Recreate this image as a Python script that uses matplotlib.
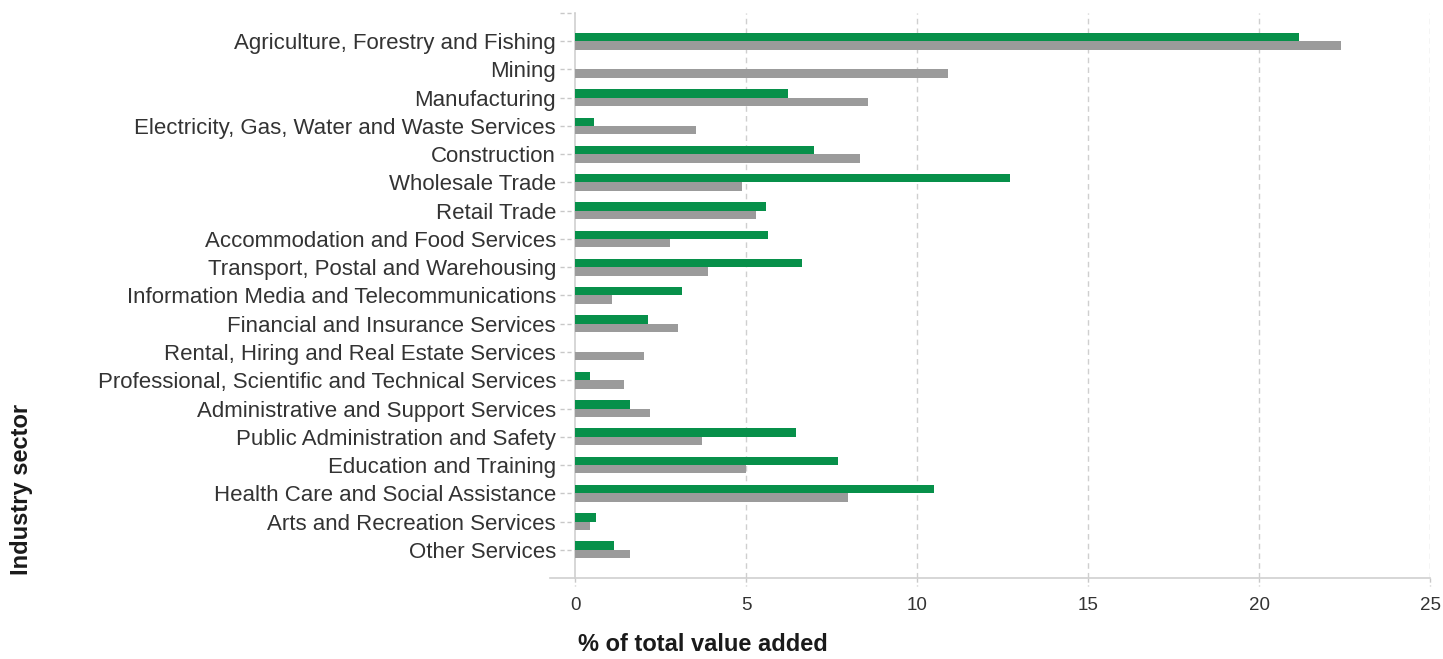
import matplotlib
matplotlib.use("Agg")
import matplotlib.pyplot as plt
import matplotlib.transforms as mtransforms
import numpy as np

plt.rcParams['font.family'] = ['Liberation Sans', 'DejaVu Sans']

sectors = [
    "Agriculture, Forestry and Fishing",
    "Mining",
    "Manufacturing",
    "Electricity, Gas, Water and Waste Services",
    "Construction",
    "Wholesale Trade",
    "Retail Trade",
    "Accommodation and Food Services",
    "Transport, Postal and Warehousing",
    "Information Media and Telecommunications",
    "Financial and Insurance Services",
    "Rental, Hiring and Real Estate Services",
    "Professional, Scientific and Technical Services",
    "Administrative and Support Services",
    "Public Administration and Safety",
    "Education and Training",
    "Health Care and Social Assistance",
    "Arts and Recreation Services",
    "Other Services",
]
green_vals = [21.15, 0.0, 6.22, 0.55, 6.98, 12.71, 5.58, 5.64, 6.63, 3.12,
              2.13, 0.0, 0.43, 1.60, 6.46, 7.68, 10.49, 0.61, 1.13]
gray_vals = [22.37, 10.9, 8.56, 3.53, 8.33, 4.88, 5.29, 2.77, 3.88, 1.08,
             3.01, 2.01, 1.43, 2.19, 3.71, 4.99, 7.98, 0.43, 1.60]
xticks = [0, 5, 10, 15, 20, 25]

green = '#07904a'
gray = '#9b9b9b'
grid_c = '#cfcfcf'
text_c = '#333333'

fig = plt.figure(figsize=(14.43, 6.59), dpi=100)
ax = fig.add_axes([0.3988, 0.1229, 0.5925, 0.8574])

y = np.arange(len(sectors))
h = 0.3
ax.barh(y - h / 2, green_vals, height=h, color=green, zorder=3)
ax.barh(y + h / 2, gray_vals, height=h, color=gray, zorder=3)

ax.set_xlim(0, 25)
ax.set_ylim(len(sectors), -1)
ax.set_xticks(xticks)
ax.set_xticklabels([str(t) for t in xticks], fontsize=13.5, color=text_c)
ax.set_yticks(y)
ax.set_yticklabels(sectors, fontsize=16, color=text_c)

for t in xticks[1:]:
    ax.axvline(t, color=grid_c, lw=1, ls=(0, (4, 3)), zorder=1)

for s in ['top', 'right']:
    ax.spines[s].set_visible(False)
for s in ['left', 'bottom']:
    ax.spines[s].set_color('#d0d0d0')
    ax.spines[s].set_linewidth(1.2)

ax.tick_params(axis='y', length=0, pad=14)
ax.tick_params(axis='x', length=0, pad=14)

# dashed tick marks
trans_y = mtransforms.blended_transform_factory(ax.transAxes, ax.transData)
for yy in list(y) + [-1]:
    ax.plot([-0.018, 0], [yy, yy], transform=trans_y, color='#c8c8c8',
            lw=1, ls=(0, (3, 2)), clip_on=False)
trans_x = mtransforms.blended_transform_factory(ax.transData, ax.transAxes)
for t in xticks:
    ax.plot([t, t], [0, -0.015], transform=trans_x, color='#c8c8c8',
            lw=1, ls=(0, (3, 2)), clip_on=False)
ax.plot([-0.03, 0], [0, 0], transform=ax.transAxes, color='#d0d0d0',
        lw=1.2, clip_on=False)

fig.text(0.4005, 0.0125, "% of total value added", fontsize=17,
         fontweight='bold', color='#1a1a1a', ha='left', va='baseline')
fig.text(0.0152, 0.127, "Industry sector", fontsize=17, fontweight='bold',
         color='#1a1a1a', rotation=90, ha='center', va='bottom')

fig.savefig("out.png", dpi=100)
